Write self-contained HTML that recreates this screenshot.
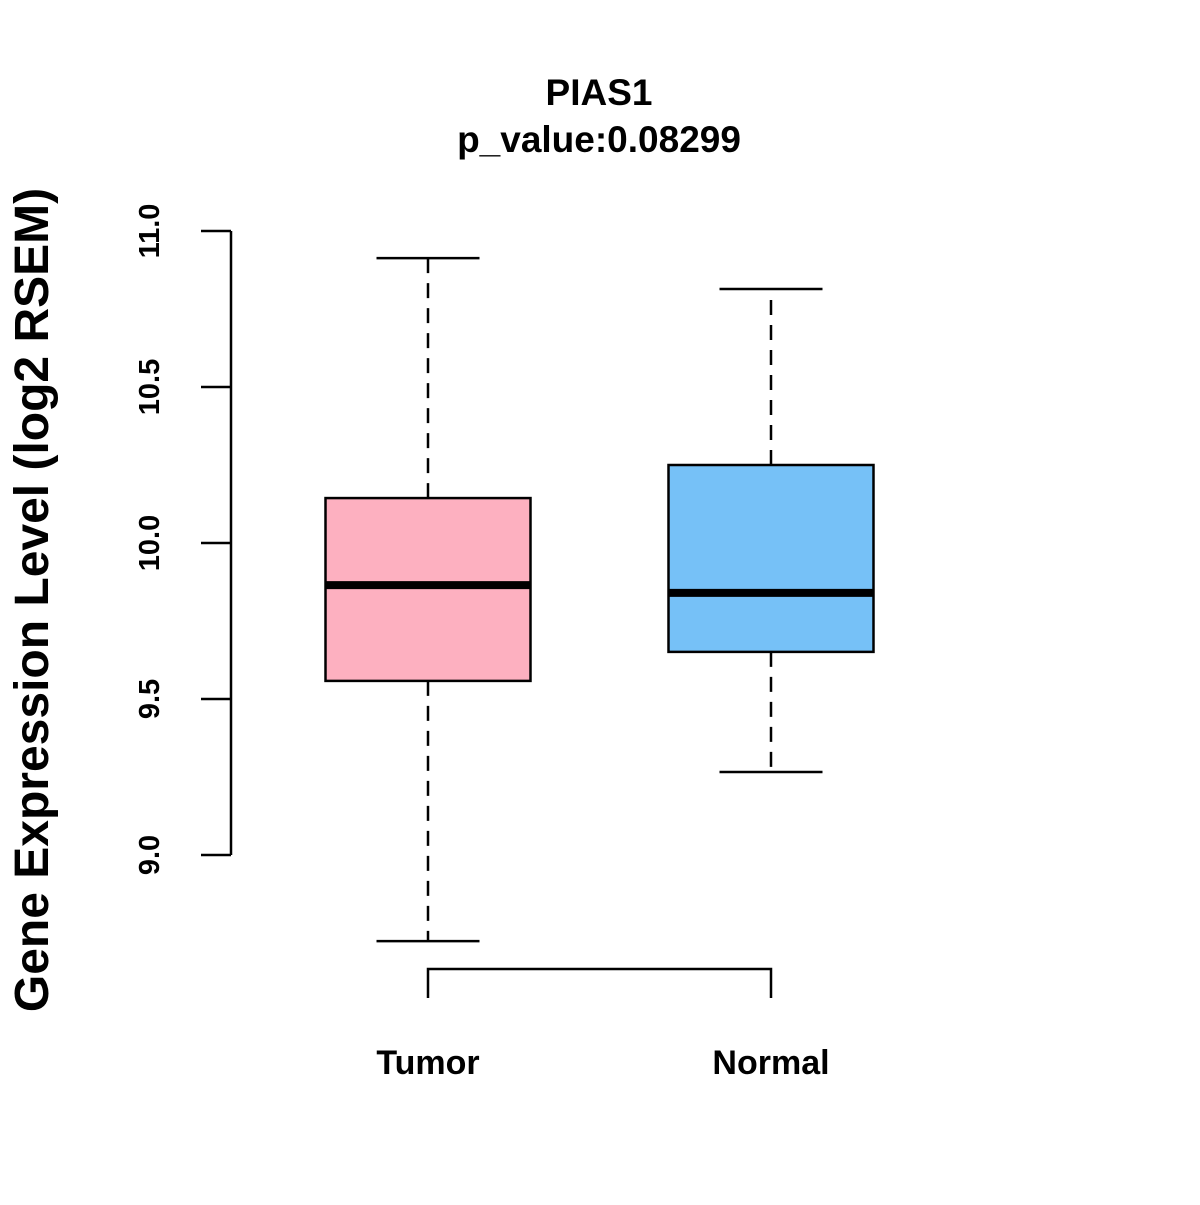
<!DOCTYPE html>
<html><head><meta charset="utf-8"><style>
html,body{margin:0;padding:0;background:#fff;}
svg text{font-family:"Liberation Sans",Arial,sans-serif;font-weight:bold;fill:#000;}
</style></head><body>
<svg id="chart" width="1200" height="1200" viewBox="0 0 1200 1200" xmlns="http://www.w3.org/2000/svg">
<rect width="1200" height="1200" fill="#fff"/>
<text x="599" y="105" font-size="37" text-anchor="middle">PIAS1</text>
<text x="599" y="152" font-size="37" text-anchor="middle">p_value:0.08299</text>
<text transform="translate(48,600) rotate(-90)" font-size="48" text-anchor="middle">Gene Expression Level (log2 RSEM)</text>
<g id="plot"></g>
</svg>
<script>
const categories = ["Tumor", "Normal"];
const whiskerLow = [8.724, 9.266];
const q1 = [9.558, 9.651];
const medians = [9.865, 9.840];
const q3 = [10.144, 10.250];
const whiskerHigh = [10.913, 10.814];
const colors = ["#FDB0C0", "#76C1F7"];
const yTicks = [9.0, 9.5, 10.0, 10.5, 11.0];
const yTickLabels = ["9.0", "9.5", "10.0", "10.5", "11.0"];

const NS = "http://www.w3.org/2000/svg";
const g = document.getElementById("plot");
function y(v){ return 855 - (v - 9.0) * 312; }
function x(i){ return 428 + i * 343; }
function mk(tag, attrs){
  const e = document.createElementNS(NS, tag);
  for (const k in attrs) e.setAttribute(k, attrs[k]);
  g.appendChild(e);
  return e;
}
let ax = mk("line", {x1:231, x2:231, y1:y(yTicks[0]), y2:y(yTicks[yTicks.length-1]), stroke:"#000", "stroke-width":2.5});


yTicks.forEach((t, i) => {
  const tk = mk("line", {x1:201, x2:231, y1:y(t), y2:y(t), stroke:"#000", "stroke-width":2.5});
  
  
  const lb = mk("text", {transform:`translate(159,${y(t)}) rotate(-90)`, "font-size":29, "text-anchor":"middle"});
  lb.textContent = yTickLabels[i];
  
  
});
const xa = mk("path", {d:`M${x(0)},998 V969 H${x(1)} V998`, fill:"none", stroke:"#000", "stroke-width":2.5});


categories.forEach((c, i) => {
  const cx = x(i), hw = 102.5, cw = 51.5;
  const wl = mk("line", {x1:cx, x2:cx, y1:y(q3[i]), y2:y(whiskerHigh[i]), stroke:"#000", "stroke-width":2.5, "stroke-dasharray":"15,10"});
  
  
  const wl2 = mk("line", {x1:cx, x2:cx, y1:y(q1[i]), y2:y(whiskerLow[i]), stroke:"#000", "stroke-width":2.5, "stroke-dasharray":"15,10"});
  
  
  const c1 = mk("line", {x1:cx-cw, x2:cx+cw, y1:y(whiskerHigh[i]), y2:y(whiskerHigh[i]), stroke:"#000", "stroke-width":2.5});
  
  
  const c2 = mk("line", {x1:cx-cw, x2:cx+cw, y1:y(whiskerLow[i]), y2:y(whiskerLow[i]), stroke:"#000", "stroke-width":2.5});
  
  
  const b = mk("rect", {x:cx-hw, y:y(q3[i]), width:hw*2, height:y(q1[i])-y(q3[i]), fill:colors[i], stroke:"#000", "stroke-width":2.5});
  
  
  const m = mk("line", {x1:cx-hw, x2:cx+hw, y1:y(medians[i]), y2:y(medians[i]), stroke:"#000", "stroke-width":8});
  
  
  const t = mk("text", {x:cx, y:1074, "font-size":34, "text-anchor":"middle"});
  t.textContent = c;
  
  
});
</script>
</body></html>
